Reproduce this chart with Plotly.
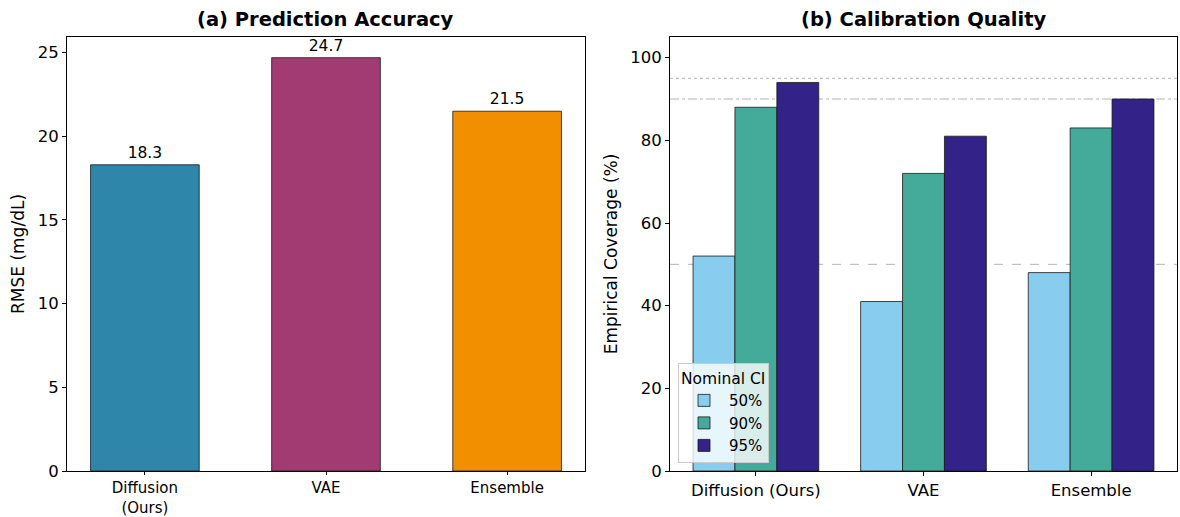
import plotly.graph_objects as go

# Panel (a): point-prediction error
models_a = ["Diffusion<br>(Ours)", "VAE", "Ensemble"]
rmse = [18.3, 24.7, 21.5]
colors_a = ["#2E86AB", "#A23B72", "#F18F01"]

# Panel (b): empirical coverage per nominal interval
models_b = ["Diffusion (Ours)", "VAE", "Ensemble"]
ci_levels = ["50%", "90%", "95%"]
coverage = {
    "50%": [52, 41, 48],
    "90%": [88, 72, 83],
    "95%": [94, 81, 90],
}
colors_b = ["#88CCEE", "#44AA99", "#332288"]
ref_levels = [50, 90, 95]
ref_dash = ["dash", "dashdot", "dot"]

FONT = "DejaVu Sans"
fig = go.Figure()

fig.add_trace(go.Bar(
    x=list(range(len(models_a))), y=rmse, width=0.6,
    marker=dict(color=colors_a, line=dict(color="#1a1a1a", width=0.8)),
    text=[f"{v:.1f}" for v in rmse], textposition="outside",
    textfont=dict(size=15.5, color="black"), cliponaxis=False,
    showlegend=False, xaxis="x", yaxis="y",
))

for lvl, col in zip(ci_levels, colors_b):
    fig.add_trace(go.Bar(
        x=list(range(len(models_b))), y=coverage[lvl], name=lvl,
        marker=dict(color=col, line=dict(color="#1a1a1a", width=0.8)),
        xaxis="x2", yaxis="y2", offsetgroup=lvl,
    ))

for lvl, dash in zip(ref_levels, ref_dash):
    fig.add_shape(type="line", xref="x2 domain", yref="y2",
                  x0=0, x1=1, y0=lvl, y1=lvl, layer="below",
                  line=dict(color="#b5b5b5", width=1, dash=dash))

axis_common = dict(showline=True, linecolor="black", linewidth=1, mirror=True,
                   ticks="outside", tickcolor="black",
                   showgrid=False, zeroline=False, automargin=False)
tick_font = dict(size=16.5, color="black", family=FONT)

ytop, ybot = 1 - 37 / 517, 1 - 471 / 517
fig.update_layout(
    width=1180, height=517, margin=dict(l=0, r=0, t=0, b=0),
    plot_bgcolor="white", paper_bgcolor="white",
    font=dict(family=FONT, color="black", size=15),
    barmode="group", bargap=0.25, bargroupgap=0,
    xaxis=dict(domain=[67 / 1180, 585 / 1180], range=[-0.43, 2.43],
               tickvals=list(range(len(models_a))), ticktext=models_a, ticklen=3,
               tickfont=dict(size=15, color="black", family=FONT), **axis_common),
    yaxis=dict(domain=[ybot, ytop], range=[0, 24.7 * 1.05], tickvals=[0, 5, 10, 15, 20, 25],
               tickfont=tick_font, ticklen=4,
               title=dict(text="RMSE (mg/dL)", font=dict(size=17), standoff=8), **axis_common),
    xaxis2=dict(domain=[670 / 1180, 1177 / 1180], range=[-0.5125, 2.5125], anchor="y2",
                tickvals=list(range(len(models_b))), ticktext=models_b, ticklen=4,
                tickfont=tick_font, **axis_common),
    yaxis2=dict(domain=[ybot, ytop], range=[0, 105], anchor="x2",
                tickvals=[0, 20, 40, 60, 80, 100], tickfont=tick_font, ticklen=4,
                title=dict(text="Empirical Coverage (%)", font=dict(size=17), standoff=8),
                **axis_common),
    legend=dict(title=dict(text="Nominal CI", font=dict(size=15.5)),
                x=678 / 1180, y=1 - 463 / 517, xanchor="left", yanchor="bottom",
                bgcolor="rgba(255,255,255,0.8)", bordercolor="#cccccc", borderwidth=1,
                font=dict(size=15), itemwidth=40),
    annotations=[
        dict(text="<b>(a) Prediction Accuracy</b>", x=326 / 1180, y=1 - 20 / 517,
             xref="paper", yref="paper", xanchor="center", yanchor="middle",
             showarrow=False, font=dict(size=19.5)),
        dict(text="<b>(b) Calibration Quality</b>", x=924 / 1180, y=1 - 20 / 517,
             xref="paper", yref="paper", xanchor="center", yanchor="middle",
             showarrow=False, font=dict(size=19.5)),
    ],
)

fig.write_html("out.html")
